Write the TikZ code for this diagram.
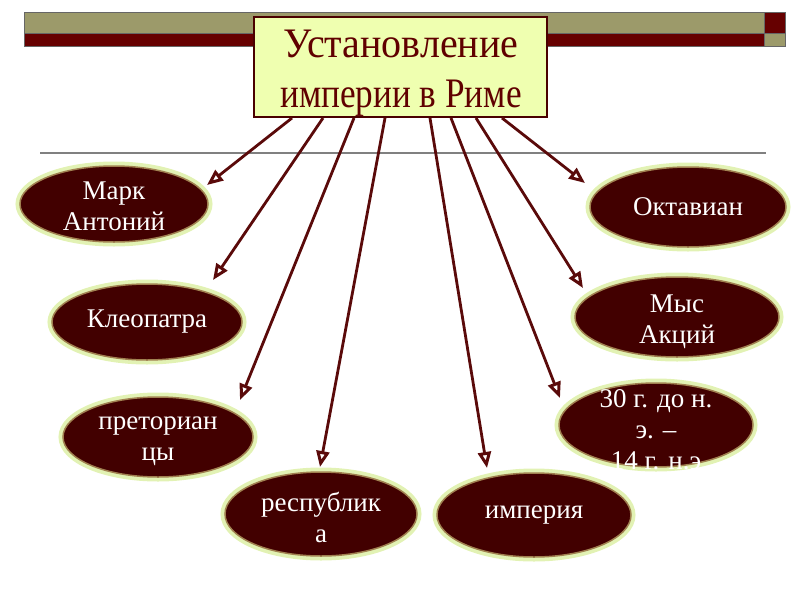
\documentclass[tikz,border=0pt]{standalone}
\usepackage{fontspec}
\setmainfont{Liberation Serif}
\usetikzlibrary{arrows.meta,shapes.geometric}
\definecolor{olive}{HTML}{9C9A6A}
\definecolor{barred}{HTML}{660000}
\definecolor{titlefill}{HTML}{EFFFB0}
\definecolor{titletext}{HTML}{600000}
\definecolor{titleborder}{HTML}{4A0000}
\definecolor{ellfill}{HTML}{420000}
\definecolor{glow}{HTML}{E2F2B4}
\definecolor{goldline}{HTML}{A08050}
\definecolor{arrowcol}{HTML}{5A0A0A}
\tikzset{
  ellbox/.style={preaction={draw=glow,line width=9pt},draw=goldline,line width=1.5pt,fill=ellfill},
  elltext/.style={text=white,font=\fontsize{27}{31}\selectfont,align=center,inner sep=0pt},
  conn/.style={draw=arrowcol,line width=2.8pt,-{Triangle[open,length=16pt,width=13pt,line width=3pt]}},
  barbox/.style={draw=black!60,line width=0.5pt}
}
\begin{document}
\begin{tikzpicture}[x=1pt,y=-1pt]
\useasboundingbox (0,0) rectangle (800,600);
% top bars
\filldraw[barbox,fill=olive] (24,12) rectangle (764,33);
\filldraw[barbox,fill=barred] (24,33) rectangle (764,46);
\filldraw[barbox,fill=barred] (764,12) rectangle (785,33);
\filldraw[barbox,fill=olive] (764,33) rectangle (785,46);
% gray rule
\draw[gray,line width=1.2pt] (40,153) -- (766,153);
% title
\node[draw=titleborder,line width=2pt,fill=titlefill,minimum width=293pt,minimum height=100pt,
  inner sep=0pt] (title) at (400.5,67) {};
\node[text=titletext,font=\fontsize{40}{50}\selectfont,align=center,inner sep=0pt] (titletxt)
  at (401,73) {\scalebox{1.0}[1.05]{Установление}\\\scalebox{0.88}[1.05]{империи в Риме}};
% ellipses
\path[ellbox] (114,204) ellipse [x radius=94,y radius=38];
\node[elltext] (marc) at (114,206) {Марк\\Антоний};
\path[ellbox] (147,322) ellipse [x radius=95,y radius=38];
\node[elltext] (cleo) at (147,322) {Клеопатра};
\path[ellbox] (158,437) ellipse [x radius=95,y radius=40];
\node[elltext] (pret) at (158,441) {преториан\\цы};
\path[ellbox] (321,514) ellipse [x radius=96,y radius=42];
\node[elltext] (resp) at (321,517) {республик\\а};
\path[ellbox] (534,515) ellipse [x radius=97,y radius=42];
\node[elltext] (imp) at (534,515) {империя};
\path[ellbox] (656,425) ellipse [x radius=97,y radius=42];
\node[elltext] (date) at (656,430) {30 г. до н.\\э. –\\14 г. н.э};
\path[ellbox] (677,317) ellipse [x radius=102,y radius=40];
\node[elltext] (cape) at (677,322) {Мыс\\Акций};
\path[ellbox] (688,207) ellipse [x radius=98,y radius=40];
\node[elltext] (oct) at (688,207) {Октавиан};
% arrow tips
\coordinate (t1) at (207,185);
\coordinate (t2) at (213,280);
\coordinate (t3) at (240,400);
\coordinate (t4) at (320,467);
\coordinate (t5) at (487,468);
\coordinate (t6) at (560,398);
\coordinate (t7) at (583,288);
\coordinate (t8) at (585,183);
% arrows
\draw[conn] (title.south west) ++(39,0) -- (t1);
\draw[conn] (title.south west) ++(70,0) -- (t2);
\draw[conn] (title.south west) ++(101,0) -- (t3);
\draw[conn] (title.south west) ++(132,0) -- (t4);
\draw[conn] (title.south west) ++(177,0) -- (t5);
\draw[conn] (title.south west) ++(198,0) -- (t6);
\draw[conn] (title.south west) ++(223,0) -- (t7);
\draw[conn] (title.south west) ++(249,0) -- (t8);
\end{tikzpicture}
\end{document}
